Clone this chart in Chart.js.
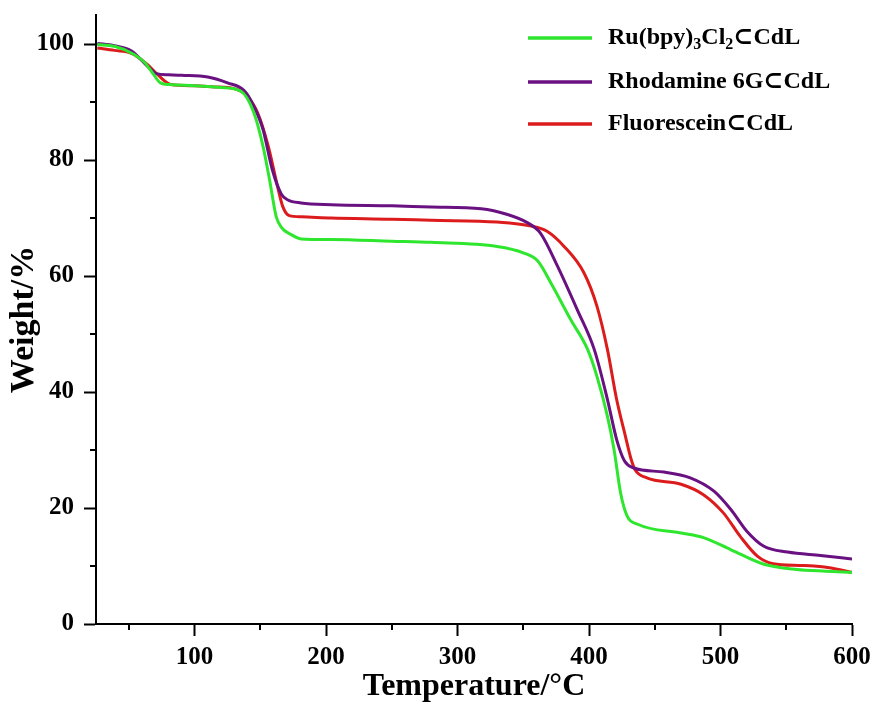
<!DOCTYPE html>
<html>
<head>
<meta charset="utf-8">
<script src="https://cdn.jsdelivr.net/npm/chart.js@4/dist/chart.umd.min.js"></script>
<style>
  html, body { margin: 0; padding: 0; background: #fff; }
  #wrap { width: 875px; height: 704px; }
</style>
</head>
<body>
<div id="wrap"><canvas id="c" width="875" height="704"></canvas></div>
<script>
// ---- data ----
const seriesLabels = ['Ru(bpy)₃Cl₂⊂CdL', 'Rhodamine 6G⊂CdL', 'Fluorescein⊂CdL'];
const seriesColors = ['#2fe62f', '#6a1182', '#dc1c1c'];

const ruTemp = [26, 39, 54, 62, 68, 74, 81, 100, 120, 135, 145, 152, 157, 162, 166, 173, 181, 204, 250, 280, 330, 350, 361, 371, 386, 399, 406, 414, 419, 424, 429, 437, 470, 487, 508, 533, 558, 580, 600];
const ruWeight = [99.9, 99.6, 98.2, 96.8, 95.0, 93.3, 93.0, 92.8, 92.5, 91.9, 88.2, 82.4, 76.6, 70.3, 68.4, 67.2, 66.4, 66.3, 66.0, 65.8, 65.1, 64.0, 62.6, 58.8, 52.5, 47.3, 42.7, 35.8, 30.1, 22.6, 18.6, 17.2, 15.7, 14.9, 12.8, 10.3, 9.4, 9.1, 8.9];

const rhTemp = [26, 39, 52, 64, 71, 80, 90, 110, 125, 138, 145, 152, 159, 166, 171, 181, 204, 250, 280, 318, 338, 353, 363, 376, 391, 404, 414, 421, 427, 434, 457, 477, 495, 508, 520, 533, 551, 576, 600];
const rhWeight = [100.1, 99.7, 98.8, 96.2, 94.9, 94.7, 94.6, 94.3, 93.3, 91.9, 89.3, 85.3, 78.4, 74.1, 73.1, 72.6, 72.3, 72.1, 71.9, 71.6, 70.6, 69.2, 67.4, 61.7, 54.2, 47.3, 38.7, 31.8, 28.1, 26.9, 26.2, 25.2, 22.9, 19.7, 16.0, 13.4, 12.4, 11.8, 11.2];

const flTemp = [26, 39, 52, 64, 72, 82, 100, 115, 130, 140, 148, 156, 163, 167, 172, 181, 204, 250, 280, 330, 356, 368, 381, 396, 406, 414, 421, 427, 432, 435, 444, 470, 487, 502, 515, 528, 540, 560, 571, 583, 600];
const flWeight = [99.3, 98.9, 98.4, 96.5, 94.7, 93.0, 92.8, 92.6, 92.3, 91.0, 88.1, 82.4, 75.5, 72.0, 70.4, 70.2, 70.0, 69.8, 69.6, 69.3, 68.6, 67.7, 65.1, 60.6, 54.8, 47.3, 38.7, 33.0, 28.4, 26.6, 25.2, 24.1, 22.3, 19.2, 15.1, 11.7, 10.4, 10.1, 10.0, 9.7, 8.9];

const xMajorTicks = [100, 200, 300, 400, 500, 600];
const xMinorTicks = [50, 150, 250, 350, 450, 550];
const yMajorTicks = [0, 20, 40, 60, 80, 100];
const yMinorTicks = [10, 30, 50, 70, 90];

const xTitle = 'Temperature/°C';
const yTitle = 'Weight/%';

// ---- chart ----
const FONT = "'Liberation Serif', 'DejaVu Serif', 'Times New Roman', serif";
const toPts = (xs, ys) => xs.map((x, i) => ({ x: x, y: ys[i] }));
const allTemps = [ruTemp, rhTemp, flTemp];
const allWeights = [ruWeight, rhWeight, flWeight];

const minorTickPlugin = {
  id: 'minorTicks',
  afterDraw(chart) {
    const ctx = chart.ctx;
    const xs = chart.scales.x, ys = chart.scales.y;
    ctx.save();
    ctx.strokeStyle = '#000';
    ctx.lineWidth = 2;
    ctx.beginPath();
    xMinorTicks.forEach(v => {
      const px = Math.round(xs.getPixelForValue(v));
      ctx.moveTo(px, xs.top);
      ctx.lineTo(px, xs.top + 6);
    });
    yMinorTicks.forEach(v => {
      const py = Math.round(ys.getPixelForValue(v));
      ctx.moveTo(ys.right, py);
      ctx.lineTo(ys.right - 6, py);
    });
    ctx.stroke();
    ctx.restore();
  }
};

const subLegendPlugin = {
  id: 'subLegend',
  afterDraw(chart) {
    const ctx = chart.ctx;
    const area = chart.chartArea;
    const x0 = area.right - 324, x1 = area.right - 260, tx = area.right - 244;
    const rowY = [area.top + 23, area.top + 67, area.top + 109];
    const subMap = { '₀': '0', '₁': '1', '₂': '2', '₃': '3', '₄': '4', '₅': '5', '₆': '6', '₇': '7', '₈': '8', '₉': '9' };
    chart.data.datasets.forEach((ds, i) => {
      const y = rowY[i];
      ctx.save();
      ctx.strokeStyle = ds.borderColor;
      ctx.lineWidth = 3.5;
      ctx.lineCap = 'butt';
      ctx.beginPath();
      ctx.moveTo(x0, y);
      ctx.lineTo(x1, y);
      ctx.stroke();
      const segs = [];
      for (const ch of ds.label) {
        const sub = subMap[ch] !== undefined;
        const c = sub ? subMap[ch] : ch;
        if (segs.length && segs[segs.length - 1].sub === sub) segs[segs.length - 1].t += c;
        else segs.push({ t: c, sub: sub });
      }
      let x = tx;
      ctx.fillStyle = '#000';
      ctx.textBaseline = 'middle';
      ctx.textAlign = 'left';
      segs.forEach(s => {
        ctx.font = s.sub ? 'bold 16px ' + FONT : 'bold 24px ' + FONT;
        ctx.fillText(s.t, x, s.sub ? y + 7 : y);
        x += ctx.measureText(s.t).width;
      });
      ctx.restore();
    });
  }
};

new Chart(document.getElementById('c'), {
  type: 'line',
  data: {
    datasets: seriesLabels.map((lab, i) => ({
      label: lab,
      data: toPts(allTemps[i], allWeights[i]),
      borderColor: seriesColors[i],
      backgroundColor: seriesColors[i],
      borderWidth: 3,
      pointRadius: 0,
      pointHoverRadius: 0,
      fill: false,
      cubicInterpolationMode: 'monotone'
    }))
  },
  options: {
    responsive: false,
    animation: false,
    events: [],
    layout: { padding: { top: 15, right: 23, bottom: 0, left: 0 } },
    plugins: {
      legend: { display: false },
      tooltip: { enabled: false }
    },
    scales: {
      x: {
        type: 'linear',
        min: 25,
        max: 600,
        afterBuildTicks: s => { s.ticks = xMajorTicks.map(v => ({ value: v })); },
        afterFit: s => { s.height = 80; s.paddingLeft = 0; s.paddingRight = 0; },
        border: { display: true, color: '#000', width: 2 },
        grid: { drawOnChartArea: false, drawTicks: true, tickLength: 12, tickWidth: 2, tickColor: '#000' },
        ticks: {
          color: '#000',
          padding: 7,
          maxRotation: 0,
          font: { family: FONT, size: 25, weight: 'bold' }
        },
        title: {
          display: true,
          text: xTitle,
          color: '#000',
          padding: { top: 0, bottom: 0 },
          font: { family: FONT, size: 32, weight: 'bold', lineHeight: 1.05 }
        }
      },
      y: {
        type: 'linear',
        min: 0,
        max: 105,
        afterBuildTicks: s => { s.ticks = yMajorTicks.map(v => ({ value: v })); },
        afterFit: s => { s.width = 96; s.paddingTop = 0; s.paddingBottom = 0; },
        border: { display: true, color: '#000', width: 2 },
        grid: { drawOnChartArea: false, drawTicks: true, tickLength: 12, tickWidth: 2, tickColor: '#000' },
        ticks: {
          color: '#000',
          padding: 10,
          font: { family: FONT, size: 25, weight: 'bold' }
        },
        title: {
          display: true,
          text: yTitle,
          color: '#000',
          padding: { top: 4, bottom: 0 },
          font: { family: FONT, size: 34, weight: 'bold' }
        }
      }
    }
  },
  plugins: [minorTickPlugin, subLegendPlugin]
});
</script>
</body>
</html>
